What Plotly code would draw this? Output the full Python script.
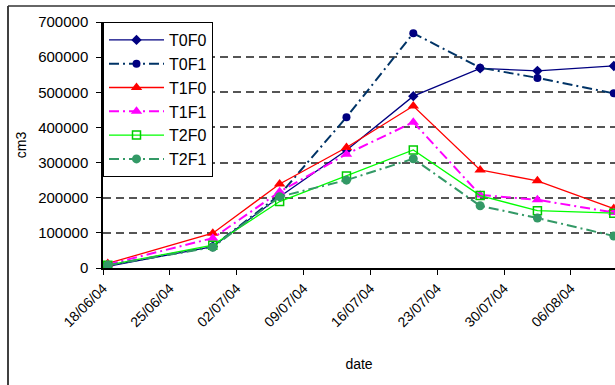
import pandas as pd
import plotly.graph_objects as go

# ---- data ----
dates = ["2004-06-18", "2004-06-29", "2004-07-06", "2004-07-13",
         "2004-07-20", "2004-07-27", "2004-08-02", "2004-08-10"]
T0F0 = [5000, 61000, 203000, 335000, 489000, 568000, 561000, 575000]
T0F1 = [8000, 61000, 208000, 429000, 668000, 570000, 541000, 497000]
T1F0 = [13000, 99000, 239000, 343000, 461000, 279000, 248000, 169000]
T1F1 = [10000, 85000, 217000, 324000, 415000, 208000, 194000, 158000]
T2F0 = [8000, 65000, 189000, 262000, 336000, 206000, 163000, 156000]
T2F1 = [8000, 59000, 203000, 250000, 311000, 177000, 142000, 91000]
tick_labels = ["18/06/04", "25/06/04", "02/07/04", "09/07/04",
               "16/07/04", "23/07/04", "30/07/04", "06/08/04"]
y_ticks = [0, 100000, 200000, 300000, 400000, 500000, 600000, 700000]

FONT = "Liberation Sans, Arial, sans-serif"

# Excel-style date axis: tick at day boundary, point in the middle of the day
tickvals = pd.to_datetime(tick_labels, format="%d/%m/%y") - pd.Timedelta(hours=12)
x_start = tickvals[0]
x_end = pd.Timestamp("2004-08-10 03:00")

x = pd.to_datetime(dates)

DASHDOT = "10px,4px,2px,4px"
series = [
    ("T0F0", T0F0, dict(color="#000080", width=1.3, dash="solid"),
     dict(symbol="diamond", size=8, color="#000080")),
    ("T0F1", T0F1, dict(color="#003366", width=2, dash=DASHDOT),
     dict(symbol="circle", size=8, color="#000080")),
    ("T1F0", T1F0, dict(color="#FF0000", width=1.3, dash="solid"),
     dict(symbol="triangle-up", size=10, color="#FF0000")),
    ("T1F1", T1F1, dict(color="#FF00FF", width=2, dash=DASHDOT),
     dict(symbol="triangle-up", size=10, color="#FF00FF")),
    ("T2F0", T2F0, dict(color="#00FF00", width=1.3, dash="solid"),
     dict(symbol="square-open", size=8, color="#00CC00", line=dict(width=1.5, color="#00CC00"))),
    ("T2F1", T2F1, dict(color="#339966", width=2, dash=DASHDOT),
     dict(symbol="circle", size=9, color="#339966")),
]

fig = go.Figure()
for name, vals, line, marker in series:
    fig.add_trace(go.Scatter(x=x, y=vals, name=name, mode="lines+markers",
                             line=line, marker=marker))

fig.update_layout(
    width=615, height=385,
    margin=dict(l=103, r=0, t=22, b=117, autoexpand=False),
    paper_bgcolor="white", plot_bgcolor="white",
    font=dict(family=FONT, color="black", size=15),
    showlegend=True,
    legend=dict(x=0, y=1, xanchor="left", yanchor="top",
                bgcolor="white", bordercolor="black", borderwidth=1,
                font=dict(size=16, family=FONT), tracegroupgap=0,
                itemwidth=55),
    xaxis=dict(
        type="date", range=[x_start, x_end],
        tickmode="array", tickvals=tickvals, ticktext=tick_labels,
        tickangle=-45, ticks="outside", ticklen=5, tickcolor="black",
        tickfont=dict(size=14, family=FONT),
        showline=True, linecolor="black", linewidth=1.5,
        showgrid=False, zeroline=False,
        title=dict(text="date", font=dict(size=14, family=FONT), standoff=30),
    ),
    yaxis=dict(
        range=[0, 700000], tickmode="array", tickvals=y_ticks,
        ticktext=[str(v) for v in y_ticks],
        ticks="outside", ticklen=5, tickcolor="black", ticklabelstandoff=5,
        tickfont=dict(size=15, family=FONT),
        showline=True, linecolor="black", linewidth=1.5,
        showgrid=True, gridcolor="#555555", gridwidth=1.5, griddash="8px,5px",
        zeroline=False,
        title=dict(text="cm3", font=dict(size=14, family=FONT), standoff=8),
    ),
    shapes=[
        dict(type="line", xref="paper", yref="paper",
             x0=(8 - 103) / 512, x1=(8 - 103) / 512, y0=1 + 16 / 246, y1=-0.6,
             line=dict(color="black", width=1.5)),
        dict(type="line", xref="paper", yref="paper",
             x0=(8 - 103) / 512, x1=1.05, y0=1 + 16 / 246, y1=1 + 16 / 246,
             line=dict(color="#333333", width=1.5)),
    ],
)

fig.write_html("out.html", config={"displayModeBar": False},
               post_script="document.body.style.margin='0px';document.body.style.overflow='hidden';")
